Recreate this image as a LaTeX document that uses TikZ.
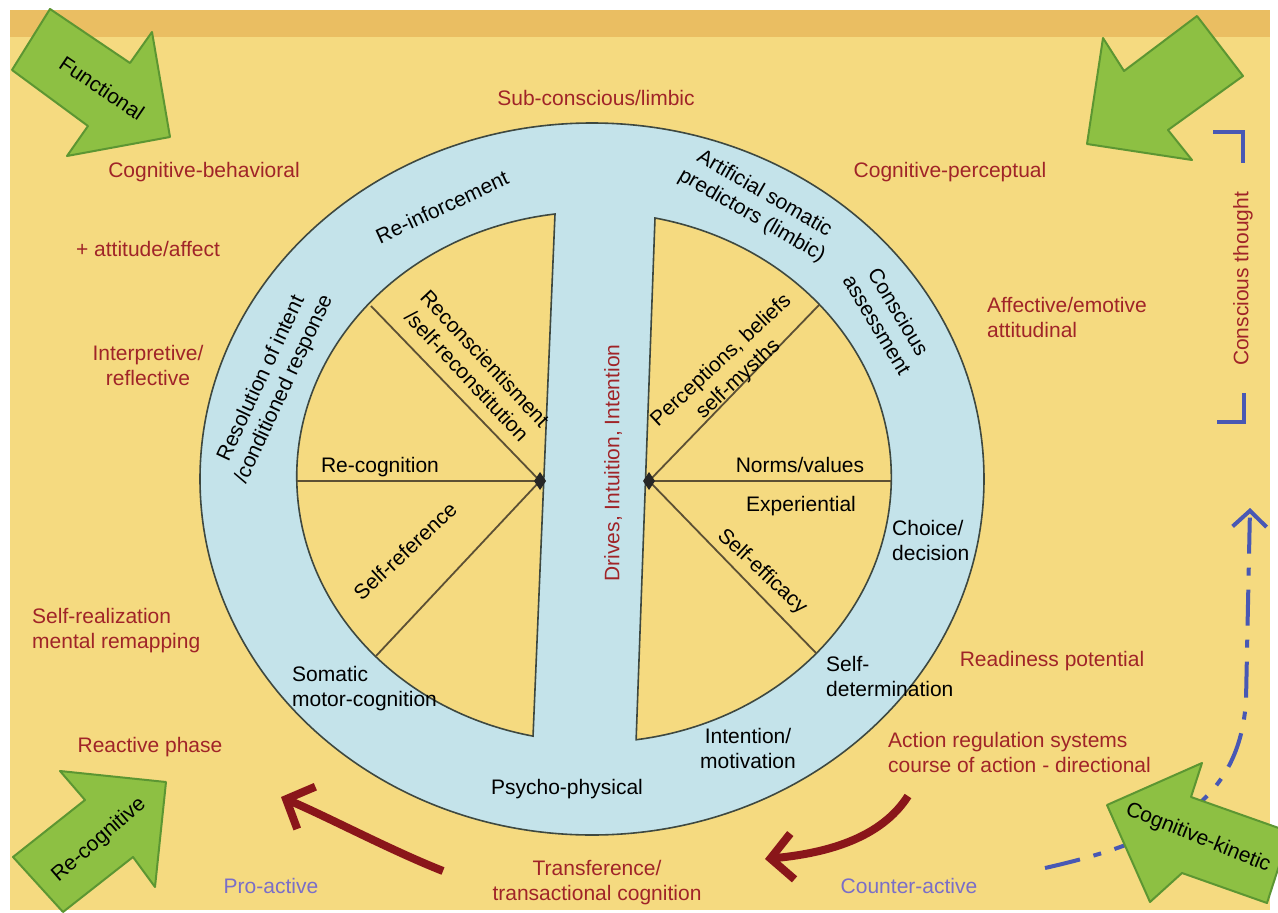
\documentclass[tikz,border=0pt]{standalone}
\usepackage{fontspec}
\setmainfont{Liberation Sans}
\usetikzlibrary{arrows.meta}

\definecolor{paper}{RGB}{245,218,128}
\definecolor{band}{RGB}{234,190,98}
\definecolor{ringblue}{RGB}{196,227,234}
\definecolor{leaf}{RGB}{141,192,67}
\definecolor{leafedge}{RGB}{92,150,50}
\definecolor{darkred}{RGB}{160,36,40}
\definecolor{arrowred}{RGB}{138,22,26}
\definecolor{softviolet}{RGB}{122,110,200}
\definecolor{dashblue}{RGB}{72,88,180}
\definecolor{rimgrey}{RGB}{62,72,64}
\definecolor{spokebrown}{RGB}{92,80,52}

\begin{document}
\begin{tikzpicture}[x=1pt, y=-1pt,
  every node/.style={font=\fontsize{21}{25}\selectfont, inner sep=0pt, align=center},
  redlabel/.style={text=darkred},
  violetlabel/.style={text=softviolet},
  rim/.style={draw=rimgrey, line width=1.6},
  spoke/.style={draw=spokebrown, line width=1.8},
  bigarrow/.style={fill=leaf, draw=leafedge, line width=2, line join=round},
  turn/.style={draw=arrowred, line width=8, -{Straight Barb[length=22pt, width=46pt]}},
  flow/.style={draw=dashblue, line width=4, dash pattern=on 36pt off 14pt on 8pt off 14pt,
    -{Straight Barb[length=16pt, width=34pt]}}]

\useasboundingbox (0,0) rectangle (1278,913);

% background
\fill[white] (0,0) rectangle (1278,913);
\fill[paper] (10,10) rectangle (1270,910);
\fill[band] (10,10) rectangle (1270,37);

% ring and the two halves
\draw[rim, fill=ringblue] (592,479) ellipse [x radius=392, y radius=356];
\draw[rim, fill=paper] (555,214) arc[start angle=262.5, end angle=101.8, x radius=297, y radius=265] -- cycle;
\draw[rim, fill=paper] (655,218) arc[start angle=-78.2, end angle=81.9, x radius=297, y radius=265] -- cycle;

% spokes
\coordinate (lhub) at (540,481);
\coordinate (rhub) at (649,481);
\coordinate (l1) at (371,306);
\coordinate (l2) at (297,481);
\coordinate (l3) at (376,656);
\coordinate (r1) at (819,305);
\coordinate (r2) at (891,481);
\coordinate (r3) at (816,653);
\foreach \e in {l1,l2,l3} \draw[spoke] (lhub) -- (\e);
\foreach \e in {r1,r2,r3} \draw[spoke] (rhub) -- (\e);
\fill[black!85] (lhub) +(0,-9) -- +(6,0) -- +(0,9) -- +(-6,0) -- cycle;
\fill[black!85] (rhub) +(0,-9) -- +(6,0) -- +(0,9) -- +(-6,0) -- cycle;

% ring labels
\node (reinforcement) [rotate=25] at (442,207) {Re-inforcement};
\node (artificial) [rotate=-30] at (758,205) {Artificial somatic\\predictors (limbic)};
\node (conscious) [rotate=-59] at (888,318) {Conscious\\assessment};
\node (resolution) [rotate=65] at (273,384) {Resolution of intent\\/conditioned response};
\node (choice) [anchor=west, align=left] at (892,540) {Choice/\\decision};
\node (selfdet) [anchor=west, align=left] at (826,676) {Self-\\determination};
\node (intention) at (748,748) {Intention/\\motivation};
\node (psycho) at (567,789) {Psycho-physical};
\node (somatic) [anchor=west, align=left] at (292,689) {Somatic\\motor-cognition};
\node (drives) [redlabel, rotate=90] at (613,463) {Drives, Intuition, Intention};

% inner labels
\node (reconsc) [rotate=-47] at (476,367) {Reconscientisment\\/self-reconstitution};
\node (recog) at (380,467) {Re-cognition};
\node (selfref) [rotate=43] at (405,551) {Self-reference};
\node (perceptions) [rotate=43] at (730,370) {Perceptions, beliefs\\self-mysths};
\node (norms) at (800,465) {Norms/values};
\node (experiential) at (801,506) {Experiential};
\node (efficacy) [rotate=-43] at (762,572) {Self-efficacy};

% outer labels
\node (subconscious) [redlabel] at (596,98) {Sub-conscious/limbic};
\node (cogbeh) [redlabel] at (204,172) {Cognitive-behavioral};
\node (cogperc) [redlabel] at (950,172) {Cognitive-perceptual};
\node (attitude) [redlabel] at (148,249) {+ attitude/affect};
\node (interpretive) [redlabel] at (148,365) {Interpretive/\\reflective};
\node (affective) [redlabel, anchor=west, align=left] at (987,317) {Affective/emotive\\attitudinal};
\node (selfreal) [redlabel, anchor=west, align=left] at (32,631) {Self-realization\\mental remapping};
\node (readiness) [redlabel] at (1052,661) {Readiness potential};
\node (actionreg) [redlabel, anchor=west, align=left] at (888,752) {Action regulation systems\\course of action - directional};
\node (reactive) [redlabel] at (150,747) {Reactive phase};
\node (transference) [redlabel] at (597,883) {Transference/\\transactional cognition};
\node (proactive) [violetlabel] at (271,886) {Pro-active};
\node (counteractive) [violetlabel] at (909,886) {Counter-active};
\node (thought) [redlabel, rotate=90] at (1243,279) {Conscious thought};

% conscious thought brackets
\draw[dashblue, line width=3.5] (1213,132) -| (1243,163);
\draw[dashblue, line width=3.5] (1244,393) |- (1217,422);

% red turning arrows
\coordinate (proStart) at (443,871);
\coordinate (proEnd) at (281,797);
\coordinate (counterStart) at (908,796);
\coordinate (counterEnd) at (765,859);
\draw[turn] (proStart) .. controls (390,850) and (330,818) .. (proEnd);
\draw[turn] (counterStart) .. controls (885,832) and (840,852) .. (counterEnd);

% blue dash-dot arrow
\coordinate (flowStart) at (1045,868);
\coordinate (flowEnd) at (1250,508);
\draw[flow] (flowStart) .. controls (1170,840) and (1240,800) .. (1246,700) -- (flowEnd);

% green arrows
\draw[bigarrow] (50,9) -- (130,63) -- (152,32) -- (170,137) -- (67,156) -- (88,126) -- (12,70) -- cycle;
\node (functional) [rotate=-34] at (102,88) {Functional};
\draw[bigarrow] (1197,16) -- (1243,76) -- (1168,130) -- (1192,160) -- (1087,144) -- (1103,38) -- (1124,71) -- cycle;
\draw[bigarrow] (60,771) -- (166,782) -- (155,887) -- (133,857) -- (63,912) -- (13,857) -- (85,800) -- cycle;
\node (recognitive) [rotate=41] at (99,840) {Re-cognitive};
\draw[bigarrow] (1107,805) -- (1202,763) -- (1191,797) -- (1290,832) -- (1267,903) -- (1182,873) -- (1150,902) -- cycle;
\node (kinetic) [rotate=-22] at (1198,838) {Cognitive-kinetic};

\end{tikzpicture}
\end{document}
